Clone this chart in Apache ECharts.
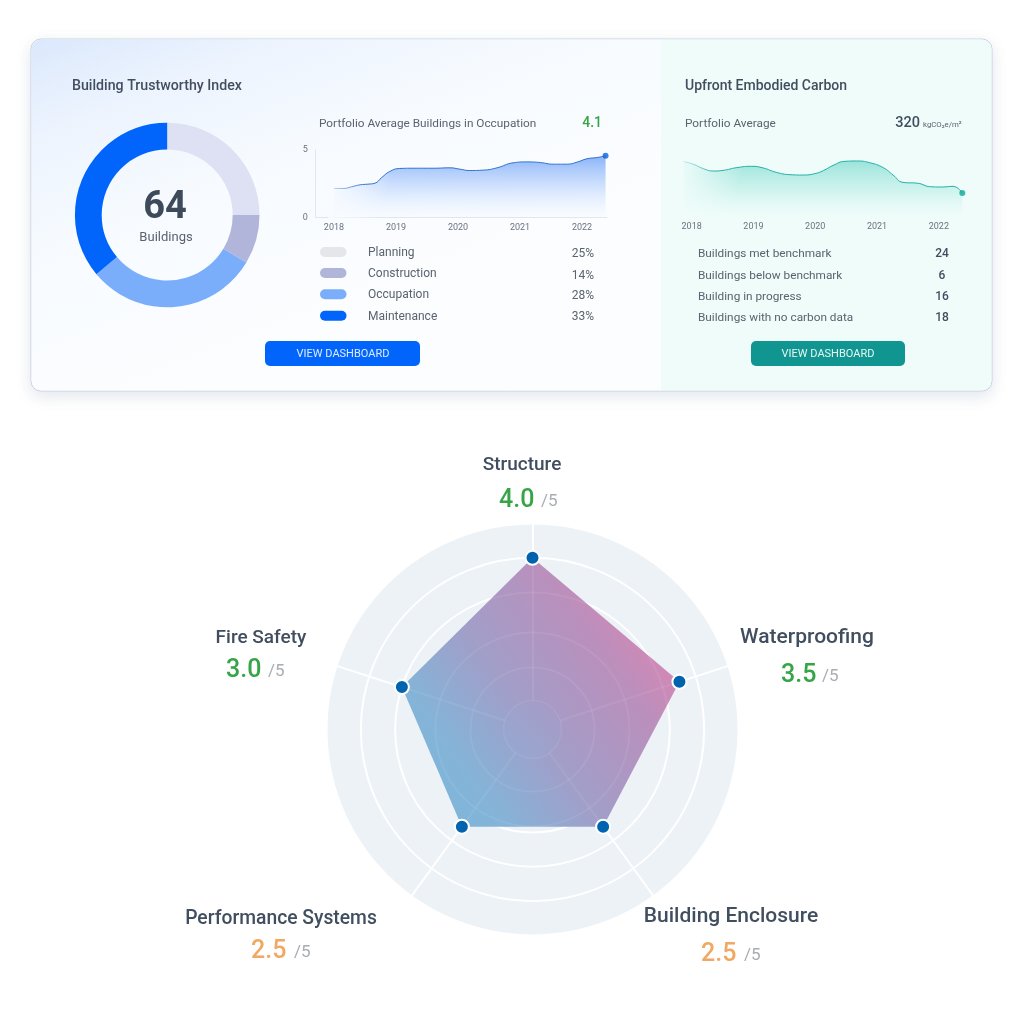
<!DOCTYPE html>
<html><head><meta charset="utf-8">
<style>html,body{margin:0;padding:0;background:#fff}#c{width:1024px;height:1024px}</style>
<script src="https://cdn.jsdelivr.net/npm/echarts@6/dist/echarts.min.js"></script>
</head><body><div id="c"></div>
<script>
// ---- data ----
const lifecycleStages = ['Planning','Construction','Occupation','Maintenance'];
const lifecycleDrawn = [25, 8.6, 30.3, 36.1];
const lifecycleLabels = ['25%','14%','28%','33%'];
const occupationYears = [2018,2018.15,2018.28,2018.42,2018.55,2018.66,2018.77,2018.9,2019.06,2019.28,2019.6,2019.87,2020.03,2020.19,2020.41,2020.63,2020.89,2021.11,2021.33,2021.54,2021.76,2021.92,2022.08,2022.24,2022.38];
const occupationValues = [2.15,2.15,2.27,2.42,2.47,2.54,2.96,3.41,3.63,3.65,3.65,3.68,3.58,3.48,3.51,3.68,4.05,4.12,4.07,3.95,3.95,4.10,4.35,4.44,4.57];
const carbonYears = [2017.87,2018.03,2018.19,2018.35,2018.51,2018.73,2018.97,2019.16,2019.37,2019.59,2019.81,2019.99,2020.13,2020.29,2020.48,2020.67,2020.88,2021.1,2021.26,2021.42,2021.67,2021.85,2022.04,2022.23,2022.38];
const carbonValues = [744,708,649,617,626,663,681,658,599,568,563,581,622,694,748,753,730,663,563,464,451,406,401,410,320];
const yearTicks = [2018,2019,2020,2021,2022];
const carbonRows = ['Buildings met benchmark','Buildings below benchmark','Building in progress','Buildings with no carbon data'];
const carbonCounts = ['24','6','16','18'];
const radarNames = ['Structure','Fire Safety','Performance Systems','Building Enclosure','Waterproofing'];
const radarScores = [4.0,3.0,2.5,2.5,3.5];
const radarScoreColors = ['#36a548','#36a548','#f0a862','#f0a862','#36a548'];

// ---- style ----
const FF = 'Roboto, sans-serif';
const ink = '#414e5f', soft = '#5a636e';
const G = echarts.graphic;
const zip = (a,b)=>a.map((v,i)=>[v,b[i]]);
const T = (text,x,y,size,fill,align,weight,z)=>({type:'text',x,y:y+1,z:z||6,silent:true,style:{text,fill,font:(weight||400)+' '+size+'px '+FF,textAlign:align||'left',textVerticalAlign:'middle'}});

const els = [];
// card
els.push({type:'rect',z:-3,shape:{x:31,y:39,width:961,height:352,r:10},style:{fill:'#fff',stroke:'#c8d3e2',lineWidth:1,shadowBlur:16,shadowOffsetY:5,shadowColor:'rgba(90,110,140,.16)'}});
els.push({type:'rect',z:-2,shape:{x:31.5,y:39.5,width:630,height:351,r:[10,0,0,10]},style:{fill:new G.LinearGradient(0,0,0.22,1,[{offset:0,color:'#dbe8fc'},{offset:.25,color:'#edf4fe'},{offset:.55,color:'#f7fbff'},{offset:1,color:'#fcfdff'}])}});
els.push({type:'rect',z:-2,shape:{x:661,y:39.5,width:330.5,height:351,r:[0,10,10,0]},style:{fill:'#effcfa'}});
// left fades over the area fills
els.push({type:'rect',z:3,shape:{x:328,y:160,width:64,height:58},style:{fill:new G.LinearGradient(0,0,1,0.25,[{offset:0,color:'rgba(248,251,255,1)'},{offset:.25,color:'rgba(248,251,255,.85)'},{offset:1,color:'rgba(248,251,255,0)'}])}});
els.push({type:'rect',z:3,shape:{x:678,y:150,width:66,height:70},style:{fill:new G.LinearGradient(0,0,1,0.25,[{offset:0,color:'rgba(239,252,250,1)'},{offset:.25,color:'rgba(239,252,250,.85)'},{offset:1,color:'rgba(239,252,250,0)'}])}});

// left text
els.push(T('Building Trustworthy Index',72,85,14.2,ink,'left',500));
els.push(T('64',165,207.5,38,'#3c4a5a','center',700));
els.push(T('Buildings',166,237,13,soft,'center'));
els.push(T('Portfolio Average Buildings in Occupation',319,123,11.8,soft));
els.push(T('4.1',602,122,14,'#36a548','right',500));
const legendColors=['#e4e6ea','#b2b5da','#7aaefb','#0265fb'];
const legY=[252,273,294.3,315.7], pctY=[253,274.5,295,316];
lifecycleStages.forEach((s,i)=>{
  els.push({type:'rect',z:6,shape:{x:320,y:legY[i]-5,width:26.5,height:10,r:5},style:{fill:legendColors[i]}});
  els.push(T(s,368,legY[i],12,soft));
  els.push(T(lifecycleLabels[i],594,pctY[i],12,soft,'right'));
});
els.push({type:'rect',z:6,shape:{x:265,y:341,width:155,height:25,r:5},style:{fill:'#0265fb'}});
els.push(T('VIEW DASHBOARD',343,353,11,'#dfeaff','center'));
// right text
els.push(T('Upfront Embodied Carbon',685,85,14,ink,'left',500));
els.push(T('Portfolio Average',685,123,11.8,soft));
els.push(T('320',920,122,14.5,ink,'right',500));
els.push(T('kgCO\u2082e/m\u00b2',923,124,7.8,soft));
const rowY=[253,275,296,317];
carbonRows.forEach((s,i)=>{
  els.push(T(s,698,rowY[i],11.8,soft));
  els.push(T(carbonCounts[i],942,rowY[i],12,ink,'center',500));
});
els.push({type:'rect',z:6,shape:{x:751,y:341,width:154,height:25,r:5},style:{fill:'#109590'}});
els.push(T('VIEW DASHBOARD',828,353,11,'#e6f7f5','center'));

// faint rings over the polygon; spokes stop at the innermost ring
[62,97,137].forEach(r=>els.push({type:'circle',z:4,silent:true,shape:{cx:532.5,cy:729.5,r},style:{fill:'none',stroke:'rgba(255,255,255,.07)',lineWidth:2}}));
els.push({type:'circle',z:4,silent:true,shape:{cx:532.5,cy:729.5,r:29},style:{fill:new G.LinearGradient(0.9,0.15,0.1,0.85,[{offset:0,color:'#a69bc6'},{offset:1,color:'#96a8d0'}]),stroke:'rgba(255,255,255,.07)',lineWidth:1.5}});

// radar labels
const labPos=[[522,464,499,500,541,19],[261,637,226,670,268,19],[281,918,251,951,294,19.3],[731,916,701,954,744,21],[807,637,781,675,822,21]];
radarNames.forEach((n,i)=>{
  const p=labPos[i];
  els.push(T(n,p[0],p[1],p[5],ink,'center',500));
  els.push(T(radarScores[i].toFixed(1),p[2],p[3],25,radarScoreColors[i],'left',500));
  els.push(T('/5',p[4],p[3]+1,17,'#a8adb3','left'));
});

const fadeLine = (c,c0)=>new G.LinearGradient(0,0,1,0,[{offset:0,color:c0},{offset:.12,color:c},{offset:1,color:c}]);
const radarIndicators = radarNames.map(n=>({name:n,min:-1,max:5}));
const option = {
  animation:false,
  textStyle:{fontFamily:FF},
  graphic:{elements:els},
  grid:[
    {left:315.7,top:150,width:291.1,height:67.5,containLabel:false},
    {left:683,top:157.5,width:279.3,height:59.2,containLabel:false}
  ],
  xAxis:[
    {gridIndex:0,type:'value',min:2017.705,max:2022.4,splitLine:{show:false},axisTick:{show:false},
     axisLine:{show:true,lineStyle:{color:'#e2e6ef',width:1}},
     axisLabel:{customValues:yearTicks,formatter:v=>String(v),fontSize:9,color:'#6b7280',margin:6,fontFamily:FF}},
    {gridIndex:1,type:'value',min:2017.86,max:2022.38,splitLine:{show:false},axisTick:{show:false},axisLine:{show:false},
     axisLabel:{customValues:yearTicks,formatter:v=>String(v),fontSize:9,color:'#6b7280',margin:5.5,fontFamily:FF}}
  ],
  yAxis:[
    {gridIndex:0,type:'value',min:0,max:5,interval:5,splitLine:{show:false},axisTick:{show:false},
     axisLine:{show:true,lineStyle:{color:'#e2e6ef',width:1}},
     axisLabel:{fontSize:9,color:'#6b7280',margin:8,fontFamily:FF,padding:[0,0,4,0]}},
    {gridIndex:1,type:'value',min:0,max:800,show:false}
  ],
  radar:[{
    center:[532.5,729.5],radius:206,startAngle:90,splitNumber:6,shape:'circle',
    indicator:radarIndicators,
    axisName:{show:false},
    splitArea:{show:true,areaStyle:{color:['#edf2f7'],opacity:1}},
    splitLine:{lineStyle:{color:'#fff',width:2}},
    axisLine:{lineStyle:{color:'#fff',width:2}},
    axisTick:{show:false},axisLabel:{show:false}
  },{
    z:3.5,center:[532.5,729.5],radius:206,startAngle:90,splitNumber:6,shape:'circle',
    indicator:radarIndicators,
    axisName:{show:false},
    splitArea:{show:false},splitLine:{show:false},
    axisLine:{lineStyle:{color:'rgba(255,255,255,.07)',width:2}},
    axisTick:{show:false},axisLabel:{show:false}
  }],
  series:[
    {type:'pie',center:[167.2,215],radius:[65.5,92.3],startAngle:90,clockwise:true,silent:true,label:{show:false},labelLine:{show:false},
     data:lifecycleStages.map((n,i)=>({name:n,value:lifecycleDrawn[i],itemStyle:{color:['#dde1f3','#b2b5da','#7aaefb','#0265fb'][i]}}))},
    {type:'line',xAxisIndex:0,yAxisIndex:0,z:2,smooth:0.5,symbol:'none',silent:true,lineStyle:{width:0},
     areaStyle:{color:new G.LinearGradient(0,0,0,1,[{offset:0,color:'rgba(72,136,243,.9)'},{offset:.5,color:'rgba(130,176,250,.5)'},{offset:1,color:'rgba(200,222,255,.05)'}])},
     data:zip(occupationYears,occupationValues)},
    {type:'line',xAxisIndex:0,yAxisIndex:0,z:4,smooth:0.5,symbol:'none',silent:true,lineStyle:{width:1,color:fadeLine('#2e70d0','rgba(46,112,208,.25)')},data:zip(occupationYears,occupationValues)},
    {type:'scatter',xAxisIndex:0,yAxisIndex:0,z:5,symbolSize:6,silent:true,itemStyle:{color:'#0b63dc'},data:[[occupationYears.at(-1),occupationValues.at(-1)]]},
    {type:'line',xAxisIndex:1,yAxisIndex:1,z:2,smooth:0.5,symbol:'none',silent:true,lineStyle:{width:0},
     areaStyle:{color:new G.LinearGradient(0,0,0,1,[{offset:0,color:'rgba(78,205,190,.75)'},{offset:.55,color:'rgba(130,222,208,.4)'},{offset:1,color:'rgba(190,240,232,0)'}])},
     data:zip(carbonYears,carbonValues)},
    {type:'line',xAxisIndex:1,yAxisIndex:1,z:4,smooth:0.5,symbol:'none',silent:true,lineStyle:{width:1,color:fadeLine('#1fb0a5','rgba(31,176,165,.15)')},data:zip(carbonYears,carbonValues)},
    {type:'scatter',xAxisIndex:1,yAxisIndex:1,z:5,symbolSize:6,silent:true,itemStyle:{color:'#0ea89e'},data:[[carbonYears.at(-1),carbonValues.at(-1)]]},
    {type:'radar',radarIndex:0,z:3,silent:true,symbol:'none',
     lineStyle:{width:0},
     areaStyle:{opacity:1,color:new G.LinearGradient(1,0.2,0.1,0.85,[{offset:0,color:'#dc85b2'},{offset:.14,color:'#d089b6'},{offset:.28,color:'#bb8fbc'},{offset:.62,color:'#a09fc9'},{offset:.88,color:'#84b4d8'},{offset:1,color:'#7fb5da'}])},
     data:[{value:radarScores}]},
    {type:'radar',radarIndex:0,z:5,silent:true,symbol:'circle',symbolSize:14,
     itemStyle:{color:'#0063b0',borderColor:'#fff',borderWidth:2},
     lineStyle:{width:0},
     data:[{value:radarScores}]}
  ]
};
const chart = echarts.init(document.getElementById('c'),null,{width:1024,height:1024});
chart.setOption(option);
</script></body></html>
